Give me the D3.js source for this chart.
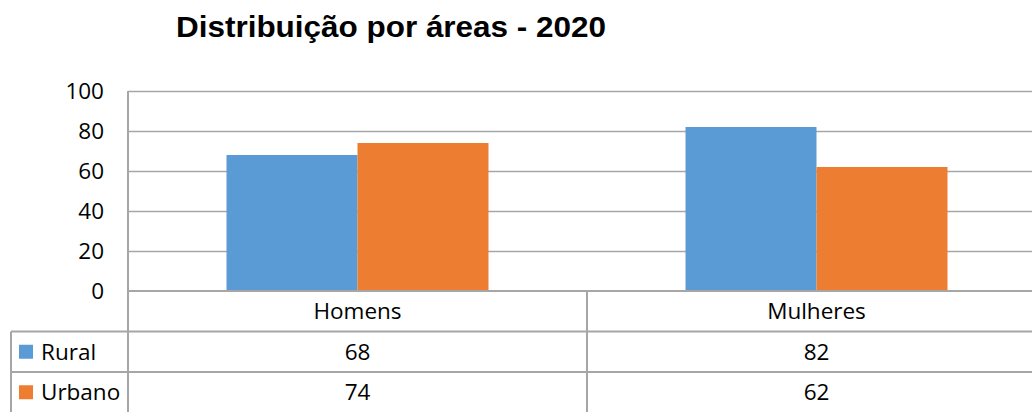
<!DOCTYPE html>
<html>
<head>
<meta charset="utf-8">
<script src="https://cdn.jsdelivr.net/npm/d3@7"></script>
<style>
  body { margin: 0; background: #fff; }
  text { font-family: "Open Sans", "Noto Sans", sans-serif; fill: #000; }
</style>
</head>
<body>
<svg id="chart" width="1032" height="412"></svg>
<script>
const categories = ["Homens", "Mulheres"];
const seriesNames = ["Rural", "Urbano"];
const rural = [68, 82];
const urbano = [74, 62];
const yTicks = [0, 20, 40, 60, 80, 100];
const colours = {"Rural": "#5B9BD5", "Urbano": "#ED7D31"};

let svg = d3.select("#chart");
let width = 1032, height = 412;
let margin = {left: 128, top: 91, right: -14, bottom: 121};
let values = {"Rural": rural, "Urbano": urbano};
let fs = "22.5px";

let x0 = d3.scaleBand()
  .domain(categories)
  .range([margin.left, width - margin.right]);
let x1 = d3.scaleBand()
  .domain(seriesNames)
  .range([0, x0.bandwidth()])
  .paddingOuter(0.752);
let y = d3.scaleLinear()
  .domain([0, 100])
  .range([height - margin.bottom, margin.top]);

let lineCol = "#a6a6a6";

// title
svg.append("text")
  .attr("x", 176).attr("y", 37)
  .attr("textLength", 430)
  .attr("lengthAdjust", "spacingAndGlyphs")
  .style("font-family", "'Liberation Sans', Arial, sans-serif")
  .style("font-weight", "bold")
  .style("font-size", "29px")
  .text("Distribuição por áreas - 2020");

// gridlines
svg.append("g").selectAll("line")
  .data(yTicks.filter(d => d > 0))
  .join("line")
    .attr("x1", margin.left).attr("x2", width)
    .attr("y1", d => Math.round(y(d)) + 0.5).attr("y2", d => Math.round(y(d)) + 0.5)
    .attr("stroke", lineCol).attr("stroke-width", 1.3);

// y labels
svg.append("g").selectAll("text")
  .data(yTicks)
  .join("text")
    .attr("x", 104).attr("y", d => y(d))
    .attr("dy", "0.35em")
    .attr("text-anchor", "end")
    .style("font-size", fs)
    .text(d => d);

// bars
let mainG = svg.append("g");
categories.forEach((c, i) => {
  mainG.append("g")
    .attr("transform", `translate(${x0(c)},0)`)
    .selectAll("rect")
    .data(seriesNames.map(s => ({key: s, value: values[s][i]})))
    .join("rect")
      .attr("x", d => x1(d.key))
      .attr("width", x1.bandwidth())
      .attr("y", d => y(d.value))
      .attr("height", d => y(0) - y(d.value))
      .attr("fill", d => colours[d.key]);
});

// data table
let rowH = 40.5;
let top0 = y(0);
let rowY = [top0, top0 + rowH, top0 + 2 * rowH, top0 + 3 * rowH];
let t = svg.append("g");

// horizontal lines
t.append("line").attr("x1", margin.left).attr("x2", width).attr("y1", top0).attr("y2", top0)
  .attr("stroke", lineCol).attr("stroke-width", 2);
[rowY[1], rowY[2]].forEach(yy => {
  t.append("line").attr("x1", 11).attr("x2", width).attr("y1", yy).attr("y2", yy)
    .attr("stroke", lineCol).attr("stroke-width", 2);
});
// vertical lines
t.append("line").attr("x1", 11).attr("x2", 11).attr("y1", rowY[1]).attr("y2", height)
  .attr("stroke", lineCol).attr("stroke-width", 2);
t.append("line").attr("x1", margin.left).attr("x2", margin.left).attr("y1", margin.top).attr("y2", height)
  .attr("stroke", lineCol).attr("stroke-width", 2);
t.append("line").attr("x1", x0("Mulheres")).attr("x2", x0("Mulheres")).attr("y1", top0).attr("y2", height)
  .attr("stroke", lineCol).attr("stroke-width", 2);

// category labels
t.selectAll("text.cat")
  .data(categories)
  .join("text")
    .attr("class", "cat")
    .attr("x", d => x0(d) + x0.bandwidth() / 2)
    .attr("y", (rowY[0] + rowY[1]) / 2)
    .attr("dy", "0.35em")
    .attr("text-anchor", "middle")
    .style("font-size", fs)
    .text(d => d);

// series rows
seriesNames.forEach((s, si) => {
  let cy = (rowY[si + 1] + rowY[si + 2]) / 2;
  t.append("rect")
    .attr("x", 19).attr("y", cy - 7).attr("width", 14).attr("height", 14)
    .attr("fill", colours[s]);
  t.append("text")
    .attr("x", 41).attr("y", cy).attr("dy", "0.35em")
    .style("font-size", fs)
    .text(s);
  t.selectAll("text.v" + si)
    .data(values[s])
    .join("text")
      .attr("class", "v" + si)
      .attr("x", (d, i) => x0(categories[i]) + x0.bandwidth() / 2)
      .attr("y", cy).attr("dy", "0.35em")
      .attr("text-anchor", "middle")
      .style("font-size", fs)
      .text(d => d);
});
</script>
</body>
</html>
